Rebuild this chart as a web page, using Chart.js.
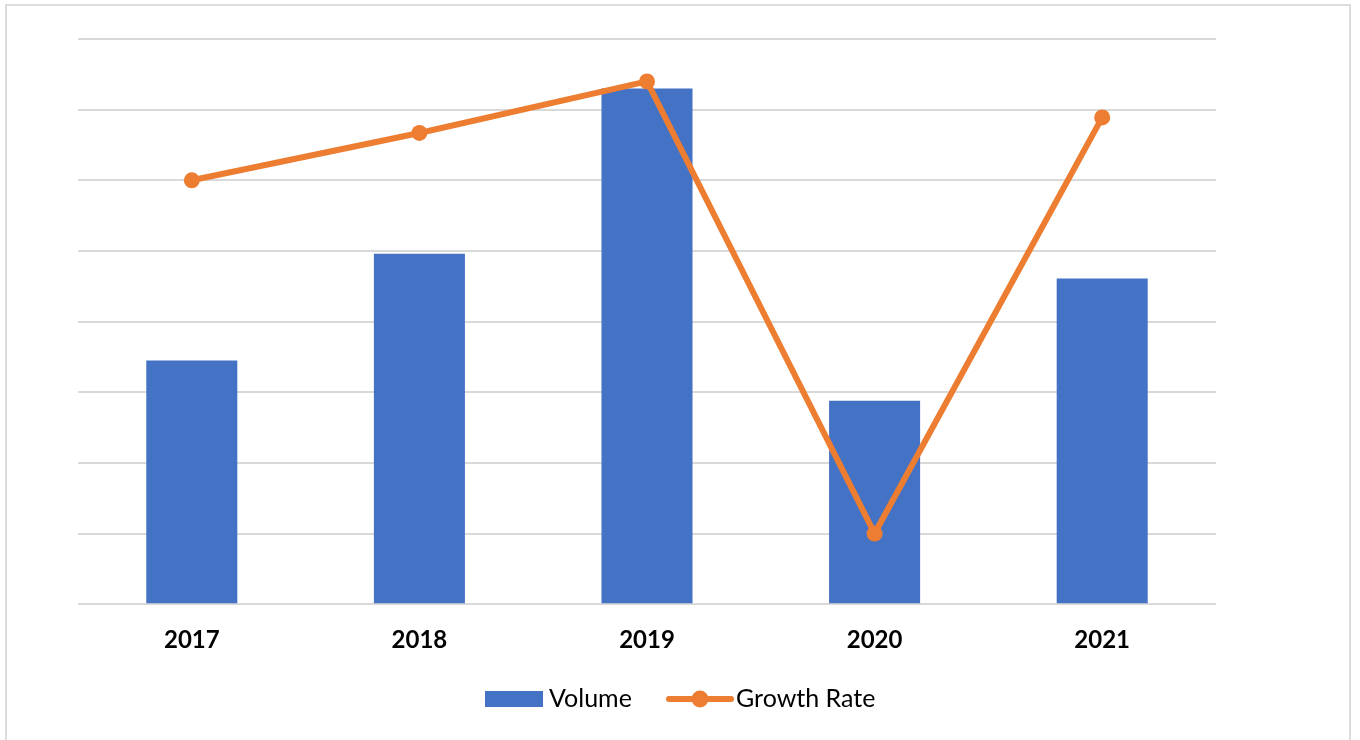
<!DOCTYPE html>
<html>
<head>
<meta charset="utf-8">
<script src="https://cdn.jsdelivr.net/npm/chart.js@4.4.1/dist/chart.umd.min.js"></script>
<style>
  html, body { margin: 0; padding: 0; background: #ffffff; }
  #wrap { position: relative; width: 1360px; height: 740px; overflow: hidden; }
  #frame { position: absolute; left: 5px; top: 4px; width: 1346px; height: 760px; border: 2px solid #dcdcdc; box-sizing: border-box; pointer-events: none; }
  canvas { position: absolute; left: 0; top: 0; }
</style>
</head>
<body>
<div id="wrap">
  <canvas id="c" width="1360" height="740"></canvas>
  <div id="frame"></div>
</div>
<script>
const categories = ['2017', '2018', '2019', '2020', '2021'];
const volumeValues = [3.45, 4.96, 7.30, 2.88, 4.61];
const growthRateValues = [6.0, 6.67, 7.40, 1.0, 6.89];
const seriesNames = ['Volume', 'Growth Rate'];

const BLUE = '#4472C4';
const ORANGE = '#ED7D31';

const customLegend = {
  id: 'customLegend',
  afterDraw(chart) {
    const ctx = chart.ctx;
    ctx.save();
    ctx.font = '25px Lato, "Open Sans", sans-serif';
    ctx.textBaseline = 'middle';
    const cy = 699;
    // Volume item
    ctx.fillStyle = BLUE;
    ctx.fillRect(485, 691, 58, 16);
    ctx.fillStyle = '#000000';
    ctx.textAlign = 'left';
    ctx.fillText(seriesNames[0], 549, cy);
    // Growth Rate item
    ctx.strokeStyle = ORANGE;
    ctx.lineWidth = 6;
    ctx.lineCap = 'round';
    ctx.beginPath();
    ctx.moveTo(669, cy);
    ctx.lineTo(731, cy);
    ctx.stroke();
    ctx.fillStyle = ORANGE;
    ctx.beginPath();
    ctx.arc(700, cy, 8.5, 0, Math.PI * 2);
    ctx.fill();
    ctx.fillStyle = '#000000';
    ctx.fillText(seriesNames[1], 736, cy);
    ctx.restore();
  }
};

new Chart(document.getElementById('c'), {
  data: {
    labels: categories,
    datasets: [
      {
        type: 'line',
        label: seriesNames[1],
        data: growthRateValues,
        borderColor: ORANGE,
        backgroundColor: ORANGE,
        borderWidth: 6,
        pointRadius: 8,
        pointHoverRadius: 8,
        pointBackgroundColor: ORANGE,
        pointBorderWidth: 0,
        tension: 0,
        order: 0
      },
      {
        type: 'bar',
        label: seriesNames[0],
        data: volumeValues,
        backgroundColor: BLUE,
        borderWidth: 0,
        categoryPercentage: 1.0,
        barPercentage: 0.4,
        order: 1
      }
    ]
  },
  options: {
    responsive: false,
    animation: false,
    layout: { padding: { top: 39, left: 78, right: 144, bottom: 71 } },
    plugins: {
      legend: { display: false },
      tooltip: { enabled: false }
    },
    scales: {
      x: {
        grid: { display: false },
        border: { display: false },
        ticks: {
          color: '#000000',
          padding: 14,
          font: { family: 'Lato, "Open Sans", sans-serif', size: 24, weight: 'bold' }
        }
      },
      y: {
        min: 0,
        max: 8,
        ticks: { display: false, stepSize: 1 },
        grid: { color: '#d9d9d9', lineWidth: 2, drawTicks: false },
        border: { display: false }
      }
    }
  },
  plugins: [customLegend]
});
</script>
</body>
</html>
